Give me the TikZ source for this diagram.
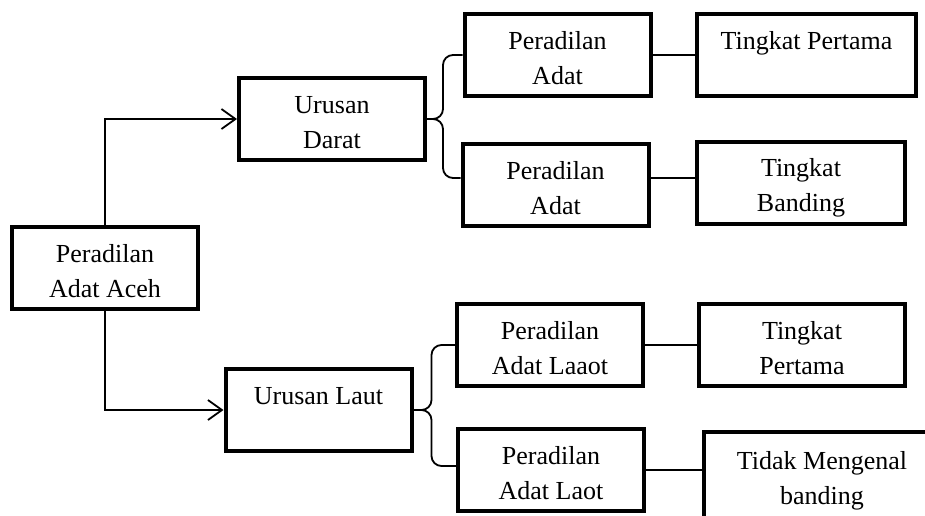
\documentclass[tikz,border=0pt]{standalone}
\usepackage{fontspec}
\setmainfont{Liberation Serif}
\usepackage{tikz}
\usetikzlibrary{calc,positioning,arrows.meta}

\begin{document}
\begin{tikzpicture}[x=0.5pt,y=-0.5pt,
        kotak/.style={rectangle,draw=black,line width=2pt,
                      minimum width=93pt,minimum height=41pt,
                      align=center,inner sep=2pt,
                      text height=31pt,text depth=2pt,
                      font=\fontsize{13pt}{17.5pt}\selectfont},
        garis/.style={draw=black,line width=0.9pt},
        panah/.style={garis,-{Straight Barb[length=7pt,width=10pt]}}]
    \useasboundingbox (0,0) rectangle (925,515);
    \clip (0,0) rectangle (925,515);

    \node[kotak] (aceh)  at (105,268)   {Peradilan\\Adat Aceh};
    \node[kotak] (darat) at (332,119)   {Urusan\\Darat};
    \node[kotak] (laut)  at (318.5,410) {Urusan Laut\\ ~};

    \node[kotak] (pa1) at (557.5,55)  {Peradilan\\Adat};
    \node[kotak] (pa2) at (555.5,185) {Peradilan\\Adat};
    \node[kotak] (pl1) at (550,345)   {Peradilan\\Adat Laaot};
    \node[kotak] (pl2) at (551,470)   {Peradilan\\Adat Laot};

    \node[kotak,minimum width=109.5pt] (tp1) at (806.5,55)  {Tingkat Pertama\\ ~};
    \node[kotak,minimum width=104pt]   (tb)  at (801,182.5) {Tingkat\\Banding};
    \node[kotak,minimum width=103pt]   (tp2) at (802,345)   {Tingkat\\Pertama};
    \node[kotak,minimum width=118pt,minimum height=43pt] (tm) at (822,475)
      {Tidak Mengenal\\banding};

    \draw[panah] (aceh.north) |- (darat.west);
    \draw[panah] (aceh.south) |- (laut.west);

    \draw[garis,rounded corners=5pt] (darat.east) -- ++(8pt,0) |- (pa1.west);
    \draw[garis,rounded corners=5pt] (darat.east) -- ++(8pt,0) |- ([yshift=3.5pt]pa2.west);
    \draw[garis,rounded corners=5pt] (laut.east) -- ++(9pt,0) |- (pl1.west);
    \draw[garis,rounded corners=5pt] (laut.east) -- ++(9pt,0) |- ([yshift=2pt]pl2.west);

    \draw[garis] (pa1) -- (tp1);
    \draw[garis] ([yshift=3.5pt]pa2.east) -- ([yshift=3.5pt]pa2.east -| tb.west);
    \draw[garis] (pl1) -- (tp2);
    \draw[garis] (pl2.east) -- (pl2.east -| tm.west);
\end{tikzpicture}
\end{document}
